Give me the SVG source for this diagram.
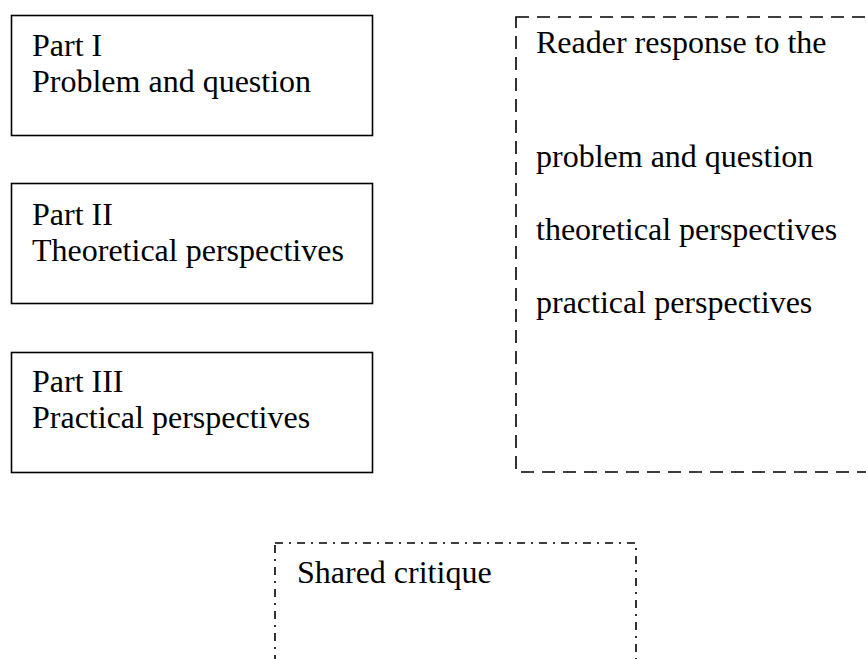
<svg xmlns="http://www.w3.org/2000/svg" width="866" height="659" viewBox="0 0 866 659">
<style>
text{font-family:"Liberation Serif","Times New Roman",serif;font-size:32px;fill:#000}
.solid{fill:none;stroke:#000;stroke-width:1.6}
.dash{fill:none;stroke:#000;stroke-width:1.6;stroke-dasharray:13 8}
.dashdot{fill:none;stroke:#000;stroke-width:1.6;stroke-dasharray:8 6 2 6}
</style>
<rect width="866" height="659" fill="#fff"/>
<g id="connectors"></g>
<g id="part1">
<rect class="solid" x="11.5" y="15.5" width="361" height="120"/>
<text x="32" y="56">Part I</text>
<text x="32" y="92">Problem and question</text>
</g>
<g id="part2">
<rect class="solid" x="11.5" y="183.5" width="361" height="120"/>
<text x="32" y="225">Part II</text>
<text x="32" y="261">Theoretical perspectives</text>
</g>
<g id="part3">
<rect class="solid" x="11.5" y="352.5" width="361" height="120"/>
<text x="32" y="392">Part III</text>
<text x="32" y="428">Practical perspectives</text>
</g>
<g id="reader">
<rect class="dash" x="516" y="17" width="380" height="455"/>
<text x="536" y="53">Reader response to the</text>
<text x="536" y="167">problem and question</text>
<text x="536" y="240">theoretical perspectives</text>
<text x="536" y="313">practical perspectives</text>
</g>
<g id="critique">
<rect class="dashdot" x="275" y="543" width="361" height="150"/>
<text x="297" y="583">Shared critique</text>
</g>
</svg>
